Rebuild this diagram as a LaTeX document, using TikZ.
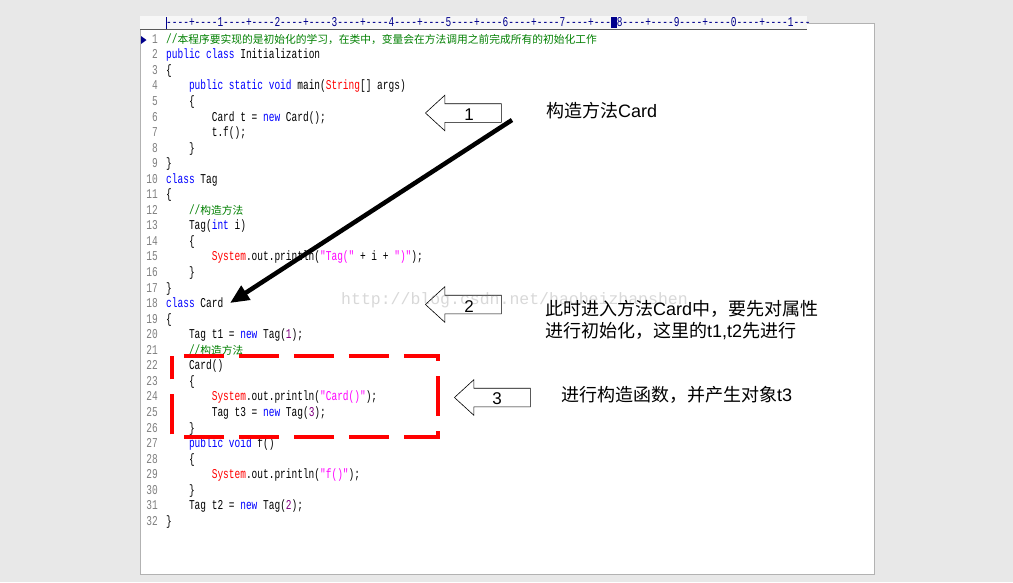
\documentclass[tikz,border=0pt]{standalone}
\usepackage{fontspec}
\setmainfont{Liberation Sans}
\setmonofont{Liberation Mono}
\newfontfamily\codefont{Liberation Mono}[FakeStretch=0.704]
\newfontfamily\cjk{Noto Sans CJK SC}
\usepackage{tikz}
\usetikzlibrary{arrows.meta,positioning,shapes.arrows}
\definecolor{bggray}{RGB}{232,232,232}
\definecolor{kwblue}{RGB}{0,0,255}
\definecolor{sysred}{RGB}{255,0,0}
\definecolor{strmag}{RGB}{255,0,255}
\definecolor{numpurple}{RGB}{128,0,128}
\definecolor{cmtgreen}{RGB}{0,128,0}
\definecolor{lnumgray}{RGB}{128,128,128}
\definecolor{rulerblue}{RGB}{0,0,140}
\newcommand{\jkw}[1]{\textcolor{kwblue}{#1}}
\newcommand{\jsys}[1]{\textcolor{sysred}{#1}}
\newcommand{\jstr}[1]{\textcolor{strmag}{#1}}
\newcommand{\jnum}[1]{\textcolor{numpurple}{#1}}
\newcommand{\jcmt}[1]{\textcolor{cmtgreen}{#1}}
\newcommand{\jzh}[1]{{\fontsize{10.75pt}{15pt}\cjk #1}}
\tikzset{
    codeline/.style={anchor=west, inner sep=0pt, text height=9.5pt, text depth=3pt,
        font=\codefont\fontsize{13.5pt}{15pt}\selectfont},
    lnum/.style={codeline, anchor=east, text=lnumgray},
    blockarrow/.style={single arrow, draw=black, fill=white, semithick,
        shape border rotate=180, minimum height=76pt, minimum width=35pt,
        single arrow head extend=8.5pt, single arrow tip angle=85,
        inner xsep=0pt, inner ysep=9pt, anchor=tip},
    arrnum/.style={inner sep=0pt, font=\fontsize{17pt}{17pt}\selectfont},
    note/.style={anchor=west, inner sep=0pt, align=left,
        font=\fontsize{18pt}{22pt}\selectfont},
    ctorbox/.style={minimum width=266pt, minimum height=81pt, inner sep=0pt},
    ctorline/.style={draw=red, line width=4pt, dash pattern=on 40pt off 15pt, dash phase=43pt},
    jump/.style={line width=4.5pt, -{Triangle[length=19pt,width=16pt]}}
}

\begin{document}
\begin{tikzpicture}[x=1pt,y=-1pt]
    \useasboundingbox (0,0) rectangle (1013,582);
    \fill[bggray] (0,0) rectangle (1013,582);
    % page and ruler
    \draw[gray!60, fill=white] (140,23) rectangle (874,574);
    \fill[gray!6] (140,16) rectangle (807,29);
    \draw[gray!70!black, line width=1.2pt] (140,29.5) -- (807,29.5);
    \draw[rulerblue] (166,17) -- (166,29);
    \node[codeline, text=rulerblue] (ruler) at (166,23) {----+----1----+----2----+----3----+----4----+----5----+----6----+----7----+---\rule[-2pt]{5.7pt}{11pt}8----+----9----+----0----+----1---};
    \fill[rulerblue] (141,36) -- (146.5,40) -- (141,44) -- cycle;

    % line numbers
    \foreach \n in {1,...,32}
        \node[lnum] (n\n) at (158,{40+(\n-1)*15.55}) {\n};

    % code
    \node[codeline] (c1) at (166,40) {\jcmt{//\jzh{本程序要实现的是初始化的学习，在类中，变量会在方法调用之前完成所有的初始化工作}}};
    \node[codeline] (c2) at (166,55.55) {\jkw{public class} Initialization};
    \node[codeline] (c3) at (166,71.1) {\{};
    \node[codeline] (c4) at (188.8,86.65) {\jkw{public static void} main(\jsys{String}[] args)};
    \node[codeline] (c5) at (188.8,102.2) {\{};
    \node[codeline] (c6) at (211.6,117.75) {Card t = \jkw{new} Card();};
    \node[codeline] (c7) at (211.6,133.3) {t.f();};
    \node[codeline] (c8) at (188.8,148.85) {\}};
    \node[codeline] (c9) at (166,164.4) {\}};
    \node[codeline] (c10) at (166,179.95) {\jkw{class} Tag};
    \node[codeline] (c11) at (166,195.5) {\{};
    \node[codeline] (c12) at (188.8,211.05) {\jcmt{//\jzh{构造方法}}};
    \node[codeline] (c13) at (188.8,226.6) {Tag(\jkw{int} i)};
    \node[codeline] (c14) at (188.8,242.15) {\{};
    \node[codeline] (c15) at (211.6,257.7) {\jsys{System}.out.println(\jstr{"Tag("} + i + \jstr{")"});};
    \node[codeline] (c16) at (188.8,273.25) {\}};
    \node[codeline] (c17) at (166,288.8) {\}};
    \node[codeline] (c18) at (166,304.35) {\jkw{class} Card};
    \node[codeline] (c19) at (166,319.9) {\{};
    \node[codeline] (c20) at (188.8,335.45) {Tag t1 = \jkw{new} Tag(\jnum{1});};
    \node[codeline] (c21) at (188.8,351) {\jcmt{//\jzh{构造方法}}};
    \node[codeline] (c22) at (188.8,366.55) {Card()};
    \node[codeline] (c23) at (188.8,382.1) {\{};
    \node[codeline] (c24) at (211.6,397.65) {\jsys{System}.out.println(\jstr{"Card()"});};
    \node[codeline] (c25) at (211.6,413.2) {Tag t3 = \jkw{new} Tag(\jnum{3});};
    \node[codeline] (c26) at (188.8,428.75) {\}};
    \node[codeline] (c27) at (188.8,444.3) {\jkw{public void} f()};
    \node[codeline] (c28) at (188.8,459.85) {\{};
    \node[codeline] (c29) at (211.6,475.4) {\jsys{System}.out.println(\jstr{"f()"});};
    \node[codeline] (c30) at (188.8,490.95) {\}};
    \node[codeline] (c31) at (188.8,506.5) {Tag t2 = \jkw{new} Tag(\jnum{2});};
    \node[codeline] (c32) at (166,522.05) {\}};

    % red box round the constructor
    \node[ctorbox] (ctor) at (305,396.5) {};
    \draw[ctorline] (ctor.north west) -- (ctor.north east) -- (ctor.south east) -- (ctor.south west) -- cycle;

    % block arrows with numbers
    \node[blockarrow] (a1) at (425,113) {};
    \node[arrnum] (k1) at (469,115) {1};
    \node[blockarrow] (a2) at (425,304.5) {};
    \node[arrnum] (k2) at (469,306.5) {2};
    \node[blockarrow] (a3) at (454,397.5) {};
    \node[arrnum] (k3) at (497,399) {3};

    % watermark
    \node[anchor=west, inner sep=0pt, text=gray, opacity=0.3,
        font=\ttfamily\fontsize{16.5pt}{16pt}\selectfont] (wmark) at (341,300) {http://blog.csdn.net/haobeizhanshen};

    % notes
    \node[note] (t1) at (546,111) {{\cjk 构造方法}Card};
    \node[note] (t2) at (545,320) {{\cjk 此时进入方法}Card{\cjk 中，要先对属性}\\{\cjk 进行初始化，这里的}t1,t2{\cjk 先进行}};
    \node[note] (t3) at (561,395) {{\cjk 进行构造函数，并产生对象}t3};

    % jump to class Card
    \coordinate (jfrom) at (512,120);
    \coordinate (jto) at (230,303);
    \draw[jump] (jfrom) -- (jto);
\end{tikzpicture}
\end{document}
